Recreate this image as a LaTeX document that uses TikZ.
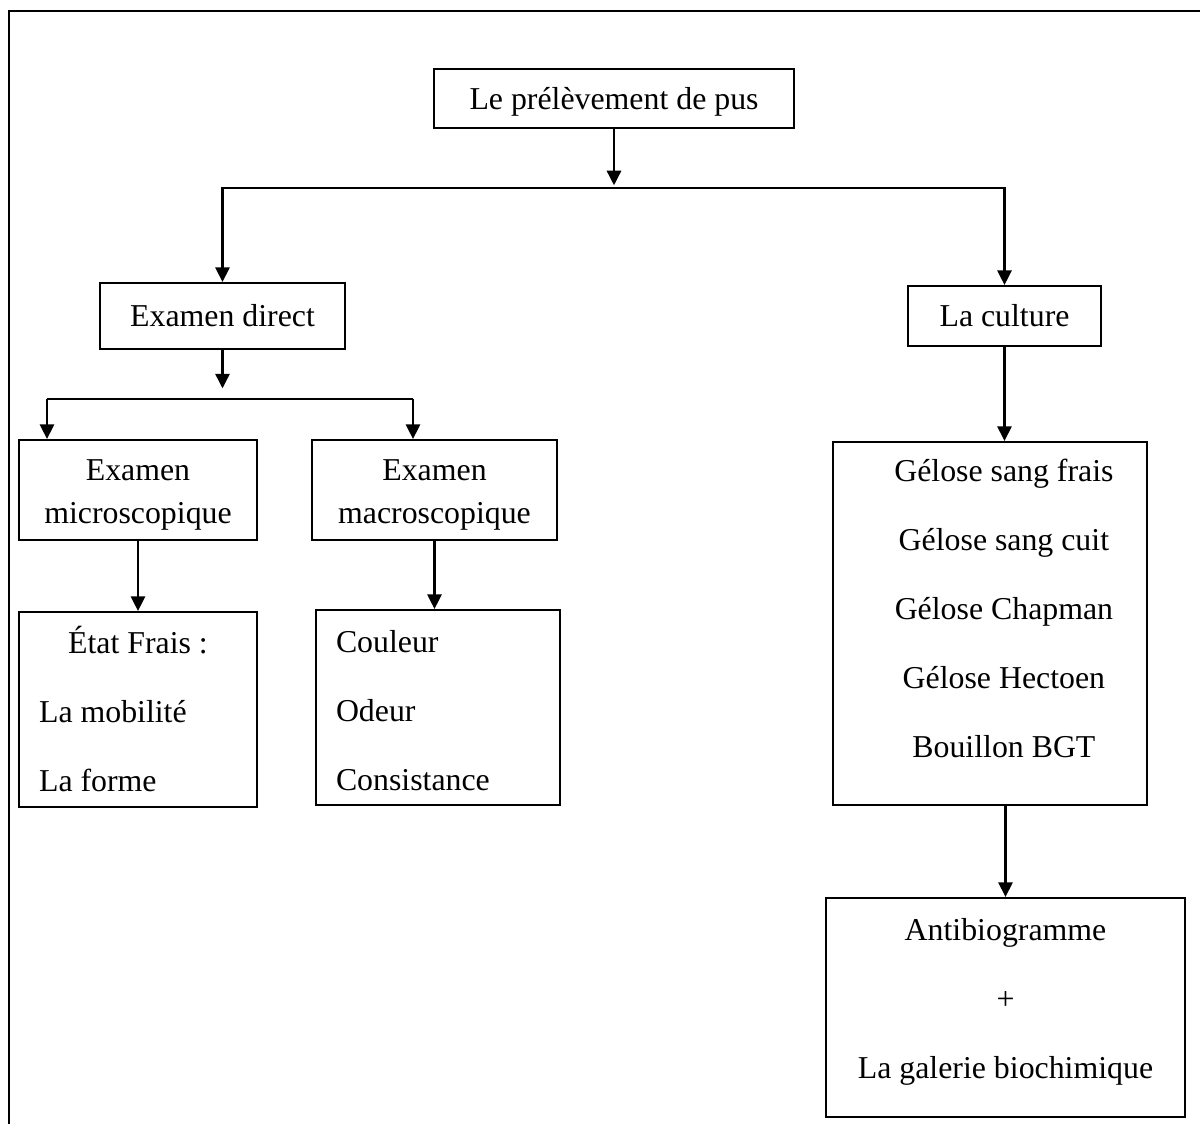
\documentclass[tikz,border=0pt]{standalone}
\usepackage{fontspec}
\setmainfont{Liberation Serif}
\usetikzlibrary{arrows.meta}
\begin{document}
\begin{tikzpicture}[>={Triangle[length=5.5pt,width=5.3pt]},x=0.377pt,y=-0.377pt,
    box/.style={draw,line width=0.75pt,inner sep=0pt,align=center,font=\fontsize{12}{16}\selectfont},
    liste/.style={box,font=\fontsize{12}{26}\selectfont},
    lien/.style={->,line width=1pt}]
\useasboundingbox (0,0) rectangle (1200,1124);
\draw[line width=0.8pt] (1200,11) -- (9,11) -- (9,1124);
% niveau 1
\node[box,minimum width=135.7pt,minimum height=22.2pt,text height=11pt] (prel) at (614,98.5) {Le prélèvement de pus};
\node[box,minimum width=92.4pt,minimum height=24.9pt] (direct) at (222.5,316) {Examen direct};
\node[box,minimum width=72.8pt,minimum height=22.6pt] (culture) at (1004.5,316) {La culture};
% examen direct
\node[box,minimum width=89.7pt,minimum height=37.7pt,text height=27.7pt] (micro) at (138,490) {Examen\\microscopique};
\node[box,minimum width=92.4pt,minimum height=37.7pt,text height=27.7pt] (macro) at (434.5,490) {Examen\\macroscopique};
\node[liste,align=flush left,text width=74.6pt,inner xsep=7.54pt,minimum height=73.5pt,text depth=52.5pt] (etat) at (138,709.5)
    {\hbox to\hsize{\hss État Frais :\hss}\\La mobilité\\La forme};
\node[liste,align=flush left,text width=76.9pt,inner xsep=7.54pt,minimum height=73.5pt,text depth=49.7pt] (couleur) at (438,707.5)
    {Couleur\\Odeur\\Consistance};
% culture
\node[liste,minimum width=118.4pt,minimum height=136.9pt,text depth=11.4pt] (gelose) at (990,623.5)
    {\hspace*{10.5pt}Gélose sang frais\\\hspace*{10.5pt}Gélose sang cuit\\\hspace*{10.5pt}Gélose Chapman\\
     \hspace*{10.5pt}Gélose Hectoen\\\hspace*{10.5pt}Bouillon BGT};
\node[liste,minimum width=135.3pt,minimum height=82.6pt,text depth=6.8pt] (antibio) at (1005.5,1007.5)
    {Antibiogramme\\+\\La galerie biochimique};
% fleches
\coordinate (split1) at (614,188);
\draw[lien] (prel) -- ([yshift=1pt]split1);
\draw[lien] (split1) -| (direct);
\draw[lien] (split1) -| (culture);
\coordinate (split2) at (222.5,399);
\coordinate (b2l) at (47,399);
\coordinate (b2r) at (413,399);
\draw[lien] (direct) -- ([yshift=4pt]split2);
\draw[line width=1pt] (b2l) -- (b2r);
\draw[lien] (b2l) -- (b2l |- micro.north);
\draw[lien] (b2r) -- (b2r |- macro.north);
\draw[lien] (micro) -- (etat);
\draw[lien] (macro) -- (macro |- couleur.north);
\draw[lien] (culture) -- (culture |- gelose.north);
\draw[lien] (antibio |- gelose.south) -- (antibio);
\end{tikzpicture}
\end{document}
